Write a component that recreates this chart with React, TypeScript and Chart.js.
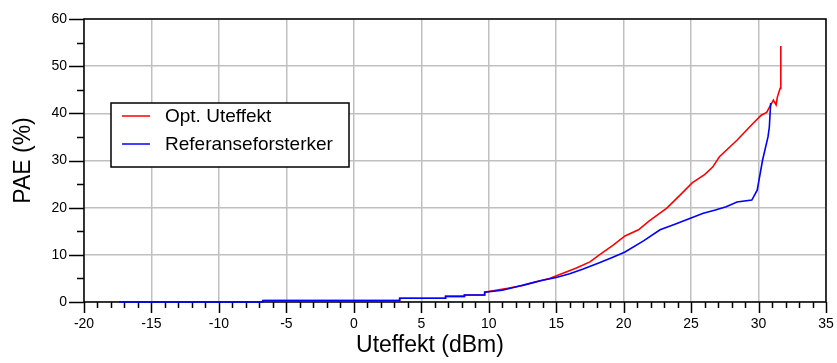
import React, { useEffect, useRef } from 'react';
import { Chart, registerables } from 'chart.js';

Chart.register(...registerables);

// ---- Data ----
const seriesNames = ['Opt. Uteffekt', 'Referanseforsterker'];
const seriesColors = ['#ff0000', '#0000ff'];

const optX = [-6.7, 3.4, 3.4, 6.8, 6.8, 8.2, 8.2, 9.7, 9.7, 11.4, 12.5, 13.5, 14.5, 15.5, 16.5, 17.5, 18.2, 19.2, 20.1, 21.1, 21.9, 23.2, 24.2, 25.1, 26.0, 26.6, 27.1, 28.4, 29.6, 30.2, 30.6, 31.1, 31.3, 31.4, 31.6, 31.65, 31.65];
const optY = [0.3, 0.3, 0.8, 0.8, 1.2, 1.2, 1.5, 1.5, 2.1, 2.9, 3.5, 4.3, 5.0, 6.1, 7.2, 8.5, 10.0, 12.0, 14.0, 15.3, 17.2, 19.9, 22.7, 25.3, 27.0, 28.6, 30.8, 34.3, 37.9, 39.6, 40.2, 42.8, 41.8, 43.5, 45.3, 45.3, 54.3];

const refX = [-17.4, -6.75, -6.75, 3.4, 3.4, 6.8, 6.8, 8.2, 8.2, 9.7, 9.7, 11.0, 12.0, 13.0, 14.0, 15.0, 16.0, 17.0, 18.2, 19.2, 20.1, 21.5, 22.7, 23.8, 24.9, 25.9, 26.8, 27.6, 28.4, 29.5, 29.9, 30.3, 30.7, 30.8, 30.9];
const refY = [0, 0, 0.3, 0.3, 0.8, 0.8, 1.2, 1.2, 1.5, 1.5, 2.1, 2.5, 3.2, 3.9, 4.6, 5.2, 6.0, 7.0, 8.3, 9.5, 10.6, 13.0, 15.3, 16.5, 17.7, 18.8, 19.5, 20.2, 21.2, 21.6, 23.7, 30.1, 35.0, 37.1, 42.2];

const xMin = -20;
const xMax = 35;
const xMajor = 5;
const yMin = 0;
const yMax = 60;
const yMajor = 10;
const yMinor = 5;

const xTitle = 'Uteffekt (dBm)';
const yTitle = 'PAE (%)';

const FONT = '"Liberation Sans", Arial, Helvetica, sans-serif';

const toPoints = (xs: number[], ys: number[]) => xs.map((x, i) => ({ x, y: ys[i] }));

const decorPlugin = {
  id: 'decor',
  beforeDatasetsDraw(chart: any) {
    const { ctx, chartArea: a, scales } = chart;
    const x = scales.x;
    const y = scales.y;
    ctx.save();
    ctx.strokeStyle = '#000';
    ctx.lineWidth = 1.5;
    // frame
    ctx.strokeRect(a.left, a.top, a.right - a.left, a.bottom - a.top);
    // x ticks
    ctx.beginPath();
    for (let v = xMin; v <= xMax; v++) {
      const px = Math.round(x.getPixelForValue(v)) + 0.5;
      const len = v % xMajor === 0 ? 11 : 6;
      ctx.moveTo(px, a.bottom);
      ctx.lineTo(px, a.bottom + len);
    }
    // y ticks
    for (let v = yMin; v <= yMax; v += yMinor) {
      const py = Math.round(y.getPixelForValue(v)) + 0.5;
      const len = v % yMajor === 0 ? 15 : 7;
      ctx.moveTo(a.left - len, py);
      ctx.lineTo(a.left, py);
    }
    ctx.stroke();
    ctx.restore();
  },
  afterDraw(chart: any) {
    const { ctx, chartArea: a } = chart;
    ctx.save();
    // axis titles
    ctx.fillStyle = '#000';
    ctx.font = `23px ${FONT}`;
    ctx.textAlign = 'center';
    ctx.textBaseline = 'middle';
    ctx.fillText(xTitle, 430, 346);
    ctx.save();
    ctx.translate(24, (a.top + a.bottom) / 2);
    ctx.rotate(-Math.PI / 2);
    ctx.fillText(yTitle, 0, 0);
    ctx.restore();

    // legend box
    const bx = 111, by = 103, bw = 238, bh = 64;
    ctx.fillStyle = '#fff';
    ctx.fillRect(bx, by, bw, bh);
    ctx.strokeStyle = '#000';
    ctx.lineWidth = 1.5;
    ctx.strokeRect(bx, by, bw, bh);
    ctx.font = `19px ${FONT}`;
    ctx.textAlign = 'left';
    ctx.textBaseline = 'middle';
    seriesNames.forEach((name, i) => {
      const ly = by + 13 + i * 28;
      ctx.strokeStyle = seriesColors[i];
      ctx.lineWidth = 1.5;
      ctx.beginPath();
      ctx.moveTo(bx + 11, ly);
      ctx.lineTo(bx + 39, ly);
      ctx.stroke();
      ctx.fillStyle = '#000';
      ctx.fillText(name, bx + 54, ly + 1);
    });
    ctx.restore();
  },
};

export default function App() {
  const ref = useRef<HTMLCanvasElement | null>(null);

  useEffect(() => {
    document.body.style.margin = '0';
    const canvas = ref.current;
    if (!canvas) return;
    const chart = new Chart(canvas, {
      type: 'line',
      data: {
        datasets: [
          {
            label: seriesNames[0],
            data: toPoints(optX, optY),
            borderColor: seriesColors[0],
            backgroundColor: seriesColors[0],
            borderWidth: 1.6,
            pointRadius: 0,
            tension: 0,
            fill: false,
            clip: 4,
            order: 1,
          },
          {
            label: seriesNames[1],
            data: toPoints(refX, refY),
            borderColor: seriesColors[1],
            backgroundColor: seriesColors[1],
            borderWidth: 1.6,
            pointRadius: 0,
            tension: 0,
            fill: false,
            clip: 4,
            order: 0,
          },
        ],
      },
      options: {
        responsive: false,
        animation: false,
        events: [],
        layout: { padding: { top: 19, right: 11, left: 0, bottom: 0 } },
        plugins: {
          legend: { display: false },
          tooltip: { enabled: false },
          title: { display: false },
        },
        scales: {
          x: {
            type: 'linear',
            min: xMin,
            max: xMax,
            afterFit: (s: any) => {
              s.height = 61;
            },
            border: { display: false },
            grid: {
              color: (c: any) => (c.tick && c.tick.value % xMajor === 0 ? '#c0c0c0' : 'rgba(0,0,0,0)'),
              lineWidth: 1.5,
              drawTicks: true,
              tickLength: 11,
              tickColor: 'rgba(0,0,0,0)',
            },
            ticks: {
              stepSize: 1,
              autoSkip: false,
              maxRotation: 0,
              padding: 3,
              color: '#000',
              font: { family: FONT, size: 14 },
              callback: (v: any) => (Number(v) % xMajor === 0 ? String(v) : ''),
            },
          },
          y: {
            type: 'linear',
            min: yMin,
            max: yMax,
            afterFit: (s: any) => {
              s.width = 84;
            },
            border: { display: false },
            grid: {
              color: (c: any) => (c.tick && c.tick.value % yMajor === 0 ? '#c0c0c0' : 'rgba(0,0,0,0)'),
              lineWidth: 1.5,
              drawTicks: true,
              tickLength: 14,
              tickColor: 'rgba(0,0,0,0)',
            },
            ticks: {
              stepSize: yMinor,
              autoSkip: false,
              padding: 3,
              color: '#000',
              font: { family: FONT, size: 14 },
              callback: (v: any) => (Number(v) % yMajor === 0 ? String(v) : ''),
            },
          },
        },
      },
      plugins: [decorPlugin],
    });
    return () => chart.destroy();
  }, []);

  return (
    <div style={{ position: 'absolute', left: 0, top: 0, width: 837, height: 363, background: '#fff' }}>
      <canvas ref={ref} width={837} height={363} style={{ display: 'block', width: 837, height: 363 }} />
    </div>
  );
}
